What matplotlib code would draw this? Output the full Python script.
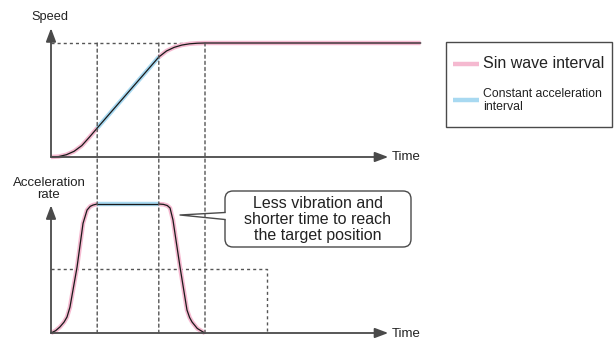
import matplotlib
matplotlib.use("Agg")
import matplotlib.pyplot as plt
from matplotlib.patches import FancyBboxPatch, Rectangle, Polygon, ConnectionPatch

plt.rcParams['font.family'] = ['Liberation Sans', 'DejaVu Sans']

# --- data (time in arbitrary units, speed / acceleration normalised to 1) ---
t_marks = [3, 7, 10]          # end of 1st sin part, end of constant part, end of 2nd sin part
t_end = 24                    # end of the drawn speed line
t_axis = 21.9                 # where the time arrows point to
t_box = 14                    # right edge of the dashed box in the lower chart
a_box = 0.5                   # height of the dashed box

speed_sin1_t = [0, 0.5, 1, 1.5, 2, 2.5, 3]
speed_sin1_v = [0, 0.004, 0.02, 0.05, 0.10, 0.175, 0.254]
speed_const_t = [3, 7]
speed_const_v = [0.254, 0.877]
speed_sin2_t = [7, 7.5, 8, 8.5, 9, 9.5, 10, 24]
speed_sin2_v = [0.877, 0.93, 0.962, 0.982, 0.993, 0.998, 1.0, 1.0]

acc_up_t = [0, 0.3, 0.58, 0.85, 1.04, 1.23, 1.69, 2.08, 2.34, 2.55, 2.73, 3]
acc_up_a = [0, 0.018, 0.047, 0.085, 0.124, 0.2, 0.51, 0.85, 0.953, 0.982, 0.992, 1]
acc_const_t = [3, 7]
acc_const_a = [1, 1]
acc_down_t = [7, 7.3, 7.55, 7.73, 7.92, 8.38, 8.83, 9.0, 9.16, 9.5, 9.87, 10]
acc_down_a = [1, 0.997, 0.988, 0.969, 0.876, 0.51, 0.178, 0.12, 0.085, 0.035, 0.008, 0]

pink = '#f5b9d0'
blue = '#a8d9f1'
ink = '#222222'
axis_c = '#4a4a4a'
dash_c = '#555555'

W, H = 614, 340
fig = plt.figure(figsize=(W / 100, H / 100), dpi=100)

px = 15.4  # pixels per time unit
x0 = 51
top = fig.add_axes([x0 / W, (H - 157) / H, t_end * px / W, 1.15 * 114 / H])
bot = fig.add_axes([x0 / W, (H - 333) / H, t_end * px / W, 1.1 * 129 / H])
top.set_xlim(0, t_end); top.set_ylim(0, 1.15)
bot.set_xlim(0, t_end); bot.set_ylim(0, 1.1)
for ax in (top, bot):
    ax.set_axis_off()

dash = (0, (2.2, 2.2))

# dashed guides
top.plot([0, t_marks[2]], [1, 1], color=dash_c, lw=1, ls=dash)
bot.plot([0, t_box, t_box], [a_box, a_box, 0], color=dash_c, lw=1, ls=dash)
for t in t_marks:
    con = ConnectionPatch(xyA=(t, 1), coordsA=top.transData,
                          xyB=(t, 0), coordsB=bot.transData,
                          color=dash_c, lw=1, ls=dash)
    fig.add_artist(con)

# axes with arrows
arrow = dict(arrowstyle='-|>,head_length=0.4,head_width=0.15', mutation_scale=20,
             color=axis_c, lw=1.3, shrinkA=0, shrinkB=0)
top.annotate('', xy=(0, 1.13), xytext=(0, 0), arrowprops=arrow, annotation_clip=False)
top.annotate('', xy=(t_axis, 0), xytext=(0, 0), arrowprops=arrow, annotation_clip=False)
bot.annotate('', xy=(0, 0.99), xytext=(0, 0), arrowprops=arrow, annotation_clip=False)
bot.annotate('', xy=(t_axis, 0), xytext=(0, 0), arrowprops=arrow, annotation_clip=False)

# curves: coloured halo + thin black line
def curve(ax, t, v, halo):
    ax.plot(t, v, color=halo, lw=3.2, solid_capstyle='butt', clip_on=False)
    ax.plot(t, v, color='#1a1a1a', lw=0.9, clip_on=False)

curve(top, speed_sin1_t, speed_sin1_v, pink)
curve(top, speed_const_t, speed_const_v, blue)
curve(top, speed_sin2_t, speed_sin2_v, pink)
curve(bot, acc_up_t, acc_up_a, pink)
curve(bot, acc_const_t, acc_const_a, blue)
curve(bot, acc_down_t, acc_down_a, pink)

# overlay in pixel coordinates for labels, callout and legend
ov = fig.add_axes([0, 0, 1, 1])
ov.set_xlim(0, W); ov.set_ylim(H, 0)
ov.set_axis_off()
ov.patch.set_alpha(0)

ov.text(49.5, 17, 'Speed', ha='center', va='center', fontsize=9.2, color=ink)
ov.text(49, 189, 'Acceleration\nrate', ha='center', va='center', fontsize=9.5,
        color=ink, linespacing=0.95)
ov.text(392, 157, 'Time', ha='left', va='center', fontsize=9.5, color=ink)
ov.text(392, 334, 'Time', ha='left', va='center', fontsize=9.5, color=ink)

# callout
box = FancyBboxPatch((225, 191), 186, 56, boxstyle='round,pad=0,rounding_size=8',
                     fc='white', ec=axis_c, lw=1)
ov.add_patch(box)
ov.add_patch(Polygon([(226, 212.5), (180, 215), (226, 219.5)], closed=True,
                     fc='white', ec='none', zorder=3))
ov.plot([225, 180, 225], [212.5, 215, 219.5], color=axis_c, lw=1, zorder=4)
ov.text(318, 219.5, 'Less vibration and\nshorter time to reach\nthe target position',
        ha='center', va='center', fontsize=11.5, color=ink, linespacing=1.12, zorder=5)

# legend
ov.add_patch(Rectangle((446, 42), 166, 85, fc='white', ec=axis_c, lw=1))
ov.plot([453, 479], [64, 64], color=pink, lw=3.2, solid_capstyle='butt')
ov.text(483, 64, 'Sin wave interval', ha='left', va='center', fontsize=11.5, color=ink)
ov.plot([453, 479], [100, 100], color=blue, lw=3.2, solid_capstyle='butt')
ov.text(483, 100.5, 'Constant acceleration\ninterval', ha='left', va='center',
        fontsize=8.8, color=ink, linespacing=1.05)

fig.savefig('out.png', dpi=100)
